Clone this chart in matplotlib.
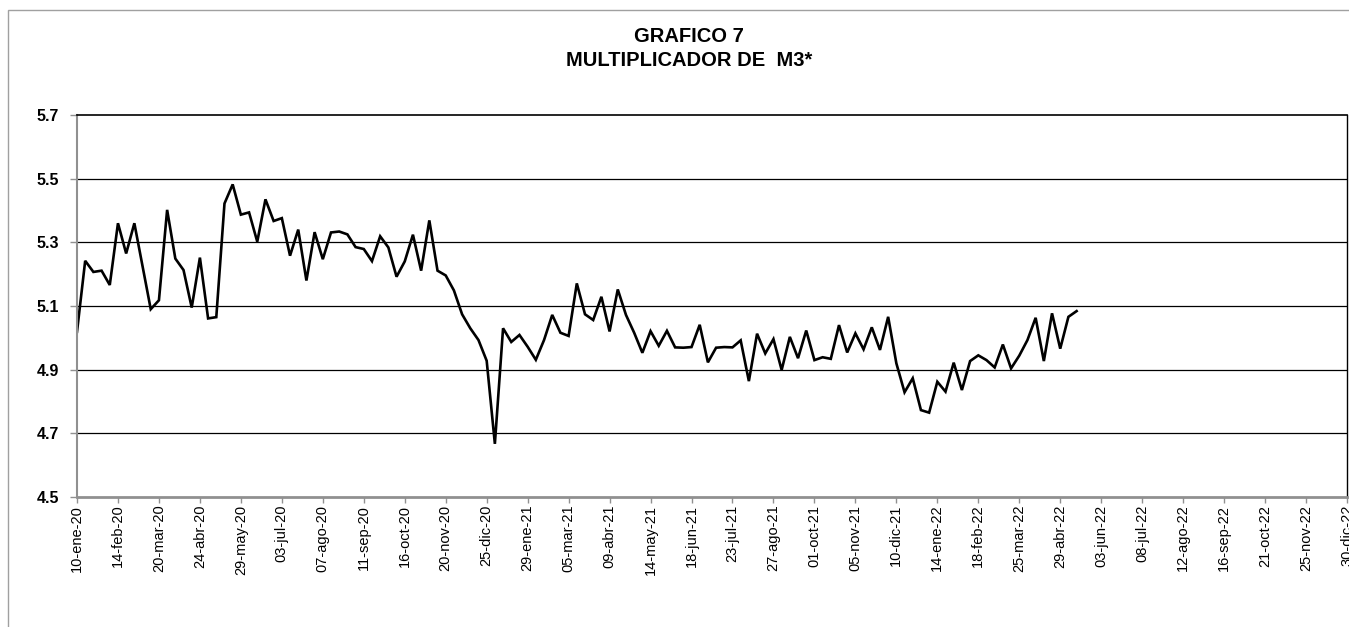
import matplotlib
matplotlib.use("Agg")
import matplotlib.pyplot as plt
from matplotlib.patches import Rectangle
import numpy as np
import pandas as pd

plt.rcParams['font.family'] = ['Liberation Sans', 'DejaVu Sans']

title_lines = ["GRAFICO 7", "MULTIPLICADOR DE  M3*"]

start_date = "2020-01-10"
end_axis_date = "2022-12-30"

values = [
    5.019, 5.242, 5.207, 5.211, 5.166, 5.360, 5.265, 5.360, 5.225, 5.090,
    5.118, 5.402, 5.249, 5.213, 5.095, 5.252, 5.061, 5.065, 5.422, 5.482,
    5.387, 5.394, 5.302, 5.435, 5.367, 5.376, 5.258, 5.340, 5.180, 5.332,
    5.247, 5.331, 5.334, 5.325, 5.285, 5.279, 5.241, 5.319, 5.284, 5.192,
    5.240, 5.324, 5.211, 5.369, 5.211, 5.196, 5.149, 5.074, 5.030, 4.993,
    4.928, 4.667, 5.030, 4.987, 5.009, 4.972, 4.931, 4.993, 5.072, 5.016,
    5.006, 5.171, 5.074, 5.056, 5.129, 5.020, 5.152, 5.072, 5.016, 4.953,
    5.021, 4.975, 5.022, 4.970, 4.969, 4.971, 5.041, 4.923, 4.969, 4.971,
    4.970, 4.992, 4.864, 5.013, 4.951, 4.996, 4.899, 5.003, 4.936, 5.023,
    4.930, 4.939, 4.934, 5.040, 4.954, 5.014, 4.964, 5.033, 4.962, 5.066,
    4.920, 4.829, 4.873, 4.773, 4.765, 4.862, 4.831, 4.922, 4.836, 4.927,
    4.945, 4.930, 4.907, 4.979, 4.904, 4.944, 4.993, 5.063, 4.927, 5.077,
    4.966, 5.066, 5.084,
]

tick_labels = [
    "10-ene-20", "14-feb-20", "20-mar-20", "24-abr-20", "29-may-20", "03-jul-20",
    "07-ago-20", "11-sep-20", "16-oct-20", "20-nov-20", "25-dic-20", "29-ene-21",
    "05-mar-21", "09-abr-21", "14-may-21", "18-jun-21", "23-jul-21", "27-ago-21",
    "01-oct-21", "05-nov-21", "10-dic-21", "14-ene-22", "18-feb-22", "25-mar-22",
    "29-abr-22", "03-jun-22", "08-jul-22", "12-ago-22", "16-sep-22", "21-oct-22",
    "25-nov-22", "30-dic-22",
]

y_ticks = [4.5, 4.7, 4.9, 5.1, 5.3, 5.5, 5.7]

dates = pd.date_range(start_date, periods=len(values), freq="7D")
axis_dates = pd.date_range(start_date, end_axis_date, freq="7D")
x = np.arange(len(values))
tick_pos = np.arange(0, len(axis_dates), 5)

W, H = 1349, 627
fig = plt.figure(figsize=(W / 100, H / 100), dpi=100)

# outer chart border
fig.patches.append(Rectangle((8 / W, -0.1), 1.2, 1 - 10 / H + 0.1,
                             transform=fig.transFigure, fill=False,
                             edgecolor="#a0a0a0", lw=1.0))

left, right, top, bottom = 77, 1347, 115, 497
ax = fig.add_axes([left / W, 1 - bottom / H, (right - left) / W, (bottom - top) / H])

ax.plot(x, values, color="black", lw=1.9, solid_joinstyle="miter")

ax.set_xlim(0, len(axis_dates) - 1)
ax.set_ylim(4.5, 5.7)
ax.set_yticks(y_ticks)
ax.set_yticklabels([f"{v:.1f}" for v in y_ticks], fontweight="bold", fontsize=11.5)
ax.set_xticks(tick_pos)
ax.set_xticklabels(tick_labels[:len(tick_pos)], rotation=90, fontsize=10.5)

for v in y_ticks[1:-1]:
    ax.axhline(v, color="black", lw=0.9, zorder=0)

ax.spines["top"].set_color("black")
ax.spines["top"].set_linewidth(1.2)
ax.spines["right"].set_color("black")
ax.spines["right"].set_linewidth(1.0)
ax.spines["left"].set_color("#909090")
ax.spines["left"].set_linewidth(1.5)
ax.spines["bottom"].set_color("#909090")
ax.spines["bottom"].set_linewidth(2.0)
ax.tick_params(axis="x", length=4, color="#909090", width=1, pad=1.5)
ax.tick_params(axis="y", length=5, color="#909090", width=1, pad=8)

fig.text(689 / W, 1 - 37 / H, title_lines[0], ha="center", va="center",
         fontsize=14.5, fontweight="bold")
fig.text(689 / W, 1 - 61 / H, title_lines[1], ha="center", va="center",
         fontsize=14.5, fontweight="bold")

fig.savefig("out.png", dpi=100)
